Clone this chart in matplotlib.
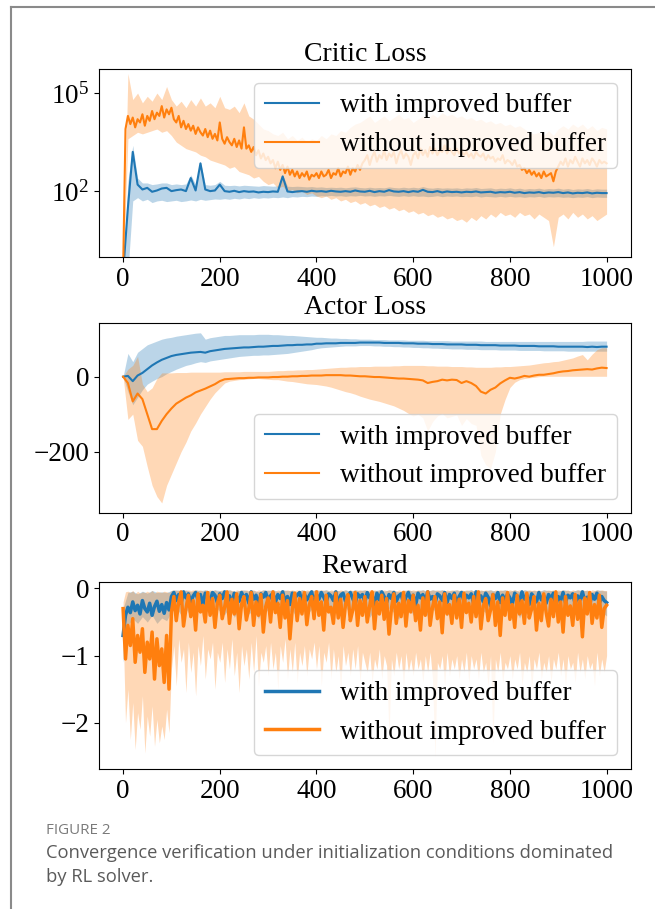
import numpy as np
import matplotlib.pyplot as plt
from matplotlib.lines import Line2D
from matplotlib.ticker import NullLocator

plt.rcParams['font.family'] = ['Liberation Serif', 'DejaVu Serif']
plt.rcParams['mathtext.fontset'] = 'stix'

# episodes: bands read every 10 episodes, the noisiest curves every 5
episodes = np.arange(0, 1001, 10)
episodes_fine = np.arange(0, 1001, 5)

labels = ['with improved buffer', 'without improved buffer']

# Critic loss as log10(loss)
critic_with_mean = [
    -0.5, 1.5, 3.2, 2.2, 2.05, 2.1, 1.98, 2.02, 2.08, 2.1,
    2.0, 2.03, 2.05, 2.0, 2.4, 2.02, 2.85, 2.05, 2.0, 2.02,
    2.2, 2.0, 1.98, 2.01, 1.97, 2.0, 1.98, 1.99, 1.96, 1.98,
    1.97, 1.99, 1.98, 2.45, 1.99, 1.97, 1.99, 2.0, 1.98, 2.01,
    1.99, 2.0, 1.98, 2.01, 1.99, 1.98, 2.0, 1.98, 2.02, 1.99,
    1.98, 2.01, 1.97, 2.0, 1.98, 2.03, 1.99, 1.98, 2.0, 1.97,
    2.0, 1.98, 2.04, 1.98, 1.97, 2.0, 1.96, 1.99, 1.97, 1.98,
    1.96, 1.98, 1.97, 1.99, 1.96, 1.97, 1.98, 1.95, 1.97, 1.96,
    1.98, 1.95, 1.97, 1.94, 1.96, 1.95, 1.97, 1.94, 1.96, 1.95,
    1.97, 1.94, 1.96, 1.93, 1.95, 1.94, 1.96, 1.93, 1.95, 1.94,
    1.94]
critic_with_low = [
    -0.5, -0.5, 1.7, 1.8, 1.7, 1.75, 1.65, 1.7, 1.72, 1.68,
    1.7, 1.72, 1.68, 1.7, 1.73, 1.7, 1.75, 1.72, 1.74, 1.76,
    1.75, 1.77, 1.75, 1.78, 1.76, 1.79, 1.77, 1.8, 1.78, 1.8,
    1.79, 1.81, 1.8, 1.82, 1.8, 1.83, 1.82, 1.84, 1.83, 1.85,
    1.84, 1.86, 1.85, 1.87, 1.85, 1.86, 1.84, 1.86, 1.85, 1.87,
    1.85, 1.86, 1.84, 1.86, 1.85, 1.87, 1.85, 1.84, 1.86, 1.84,
    1.86, 1.84, 1.85, 1.83, 1.84, 1.86, 1.83, 1.85, 1.84, 1.85,
    1.83, 1.84, 1.83, 1.85, 1.82, 1.84, 1.83, 1.82, 1.84, 1.82,
    1.84, 1.82, 1.83, 1.81, 1.83, 1.82, 1.84, 1.81, 1.83, 1.82,
    1.83, 1.81, 1.82, 1.8, 1.82, 1.81, 1.83, 1.8, 1.82, 1.81,
    1.81]
critic_with_high = [
    -0.5, 2.3, 3.4, 2.4, 2.25, 2.25, 2.2, 2.22, 2.25, 2.25,
    2.2, 2.22, 2.2, 2.22, 2.5, 2.2, 2.9, 2.2, 2.18, 2.2,
    2.3, 2.18, 2.17, 2.18, 2.16, 2.18, 2.17, 2.16, 2.15, 2.17,
    2.16, 2.15, 2.16, 2.5, 2.15, 2.14, 2.15, 2.14, 2.13, 2.14,
    2.12, 2.13, 2.11, 2.12, 2.11, 2.12, 2.1, 2.12, 2.13, 2.11,
    2.1, 2.12, 2.1, 2.11, 2.1, 2.13, 2.11, 2.1, 2.12, 2.1,
    2.12, 2.1, 2.14, 2.1, 2.09, 2.11, 2.09, 2.1, 2.09, 2.1,
    2.08, 2.1, 2.09, 2.11, 2.08, 2.09, 2.1, 2.07, 2.09, 2.08,
    2.1, 2.07, 2.09, 2.06, 2.08, 2.07, 2.09, 2.06, 2.08, 2.07,
    2.09, 2.06, 2.08, 2.05, 2.07, 2.06, 2.08, 2.05, 2.07, 2.06,
    2.06]
# every 5 episodes
critic_without_mean = [
    -0.5, 3.9, 4.3, 4.05, 4.25, 3.95, 4.2, 4.1, 4.35, 4.0,
    4.3, 4.15, 4.45, 4.2, 4.4, 4.3, 4.6, 4.25, 4.5, 4.35,
    4.55, 4.2, 4.1, 4.3, 3.95, 4.15, 3.9, 4.05, 3.85, 4.0,
    3.75, 3.95, 3.8, 3.7, 3.9, 3.65, 3.85, 3.6, 3.75, 3.55,
    4.1, 3.6, 3.45, 3.65, 3.5, 3.4, 3.6, 3.35, 3.55, 3.3,
    3.95, 3.3, 3.4, 3.2, 3.35, 3.1, 3.25, 3.0, 3.15, 2.95,
    3.05, 2.85, 2.95, 2.7, 2.9, 2.65, 2.8, 2.55, 2.75, 2.5,
    2.65, 2.45, 2.6, 2.4, 2.55, 2.45, 2.6, 2.35, 2.5, 2.45,
    2.55, 2.4, 2.6, 2.45, 2.5, 2.65, 2.4, 2.55, 2.5, 2.7,
    2.45, 2.6, 2.55, 2.75, 2.5, 2.7, 2.6, 2.8, 2.65, 2.85,
    2.95, 3.1, 2.8, 3.05, 3.2, 2.9, 3.1, 3.0, 3.25, 2.95,
    3.15, 3.05, 3.2, 2.85, 3.1, 3.25, 3.0, 3.15, 3.05, 2.8,
    3.1, 3.2, 3.0, 3.3, 3.1, 3.25, 3.05, 3.35, 3.15, 3.3,
    3.1, 3.25, 3.2, 3.4, 3.15, 3.3, 3.2, 3.1, 3.3, 3.15,
    3.25, 3.1, 3.2, 3.05, 3.15, 3.0, 3.2, 3.1, 3.05, 3.15,
    2.95, 3.1, 3.0, 3.05, 2.9, 3.0, 2.95, 3.1, 2.85, 2.95,
    2.9, 2.8, 2.95, 2.75, 2.8, 2.65, 2.7, 2.55, 2.65, 2.5,
    2.6, 2.45, 2.55, 2.4, 2.6, 2.45, 2.5, 2.55, 2.3, 2.6,
    2.75, 2.9, 2.8, 3.0, 2.75, 2.95, 2.85, 3.05, 2.9, 2.75,
    3.0, 2.85, 2.95, 2.8, 3.0, 2.9, 2.75, 2.95, 2.85, 2.9,
    2.85]
critic_without_low = [
    -0.5, 3.6, 3.7, 3.8, 3.75, 3.8, 3.85, 3.9, 3.8, 3.85,
    3.7, 3.5, 3.4, 3.3, 3.25, 3.2, 3.1, 3.05, 2.95, 2.9,
    2.85, 2.8, 2.7, 2.75, 2.6, 2.55, 2.5, 2.4, 2.45, 2.3,
    2.2, 2.25, 2.1, 2.15, 2.0, 2.05, 1.95, 2.0, 1.9, 1.95,
    1.85, 1.8, 1.85, 1.75, 1.8, 1.7, 1.75, 1.65, 1.7, 1.6,
    1.65, 1.55, 1.6, 1.5, 1.55, 1.45, 1.5, 1.4, 1.45, 1.35,
    1.4, 1.3, 1.35, 1.25, 1.3, 1.2, 1.25, 1.15, 1.2, 1.1,
    1.15, 1.05, 1.2, 1.1, 1.25, 1.15, 1.3, 1.2, 1.35, 1.25,
    1.3, 1.2, 1.35, 1.25, 1.3, 1.15, 1.3, 1.2, 1.1, 0.3,
    1.2, 1.3, 1.15, 1.35, 1.2, 1.3, 1.15, 1.25, 1.1, 1.2,
    1.3]
critic_without_high = [
    -0.5, 5.6, 4.8, 5.0, 4.7, 4.9, 4.75, 5.0, 4.8, 5.2,
    4.8, 4.6, 4.75, 4.55, 4.8, 4.6, 4.85, 4.6, 4.7, 4.55,
    4.9, 4.55, 4.5, 4.6, 4.4, 4.7, 4.3, 4.2, 4.05, 3.9,
    3.85, 3.75, 3.7, 3.8, 3.6, 3.7, 3.55, 3.65, 3.5, 3.6,
    3.55, 3.7, 3.6, 3.75, 3.7, 3.85, 3.8, 3.95, 4.05, 4.1,
    4.2, 4.3, 4.1, 4.2, 4.3, 4.15, 4.25, 4.35, 4.2, 4.25,
    4.1, 4.2, 4.3, 4.2, 4.35, 4.25, 4.4, 4.3, 4.35, 4.25,
    4.3, 4.2, 4.25, 4.15, 4.2, 4.1, 4.15, 4.05, 4.1, 4.0,
    4.05, 3.95, 4.0, 3.9, 3.8, 3.75, 3.8, 3.7, 3.85, 3.7,
    3.9, 4.0, 3.9, 4.05, 3.95, 4.05, 3.9, 4.0, 3.85, 3.95,
    3.9]

# Actor loss
actor_with_mean = [
    0, 2, -12, 3, 10, 20, 30, 38, 45, 50,
    55, 58, 60, 62, 64, 65, 66, 64, 68, 70,
    72, 74, 75, 76, 77, 78, 78, 79, 80, 80,
    81, 82, 82, 83, 84, 84, 85, 85, 86, 86,
    88, 88, 89, 89, 89, 90, 90, 90, 90, 91,
    91, 91, 91, 91, 90, 90, 90, 90, 89, 89,
    89, 88, 88, 88, 87, 87, 87, 86, 86, 86,
    86, 85, 85, 85, 84, 84, 84, 84, 83, 83,
    83, 83, 82, 82, 82, 82, 81, 81, 81, 81,
    80, 80, 80, 80, 80, 80, 79, 80, 79, 80,
    80]
actor_with_low = [
    0, -40, -75, -55, -35, -20, -12, -5, 0, 8,
    14, 20, 25, 30, 33, 37, 40, 38, 42, 44,
    46, 48, 50, 52, 54, 55, 56, 57, 57, 58,
    58, 59, 60, 61, 62, 64, 66, 68, 70, 72,
    75, 77, 78, 79, 80, 81, 82, 82, 82, 83,
    83, 83, 82, 82, 81, 81, 80, 80, 79, 79,
    78, 78, 77, 77, 76, 76, 75, 75, 74, 74,
    74, 73, 73, 73, 72, 72, 72, 72, 71, 71,
    71, 71, 70, 70, 70, 70, 70, 69, 69, 69,
    69, 69, 68, 68, 68, 68, 68, 68, 68, 68,
    68]
actor_with_high = [
    0, 62, 40, 65, 75, 85, 90, 95, 100, 103,
    105, 108, 110, 112, 114, 116, 117, 100, 104, 106,
    108, 110, 110, 111, 112, 112, 112, 112, 113, 113,
    113, 112, 112, 111, 110, 110, 109, 108, 107, 106,
    105, 105, 104, 103, 103, 102, 102, 101, 101, 100,
    100, 100, 99, 99, 99, 98, 98, 98, 98, 97,
    97, 97, 97, 96, 96, 96, 96, 96, 95, 95,
    95, 95, 95, 95, 95, 94, 94, 94, 94, 94,
    94, 94, 94, 94, 94, 94, 94, 94, 94, 94,
    94, 94, 94, 94, 94, 94, 95, 95, 95, 95,
    95]
actor_without_mean = [
    0, -17, -66, -45, -60, -100, -140, -140, -118, -100,
    -85, -72, -64, -56, -50, -42, -37, -32, -26, -20,
    -12, -7, -6, -5, -4, -4, -3, -3, -2, -2,
    -2, -1, -1, 0, 0, 1, 1, 2, 2, 3,
    3, 3, 4, 4, 4, 4, 3, 3, 2, 1,
    1, 0, -1, -1, -2, -3, -4, -5, -5, -6,
    -7, -8, -10, -17, -14, -12, -8, -10, -8, -9,
    -17, -12, -17, -25, -40, -45, -35, -29, -18, -10,
    -3, -5, -2, 2, 0, 3, 5, 5, 7, 9,
    12, 14, 15, 17, 18, 19, 20, 19, 22, 24,
    23]
actor_without_low = [
    0, -114, -100, -170, -186, -240, -290, -320, -337, -290,
    -260, -230, -200, -175, -145, -124, -100, -80, -60, -43,
    -30, -17, -12, -10, -8, -7, -6, -5, -5, -6,
    -7, -8, -8, -10, -12, -13, -15, -17, -19, -20,
    -21, -23, -25, -28, -32, -36, -40, -43, -47, -52,
    -56, -60, -63, -66, -70, -74, -78, -84, -90, -98,
    -105, -100, -110, -145, -120, -105, -98, -110, -106, -102,
    -130, -112, -125, -130, -210, -235, -245, -200, -100, -61,
    -29, -15, -8, -5, -3, -2, 0, 1, 1, 1,
    1, 1, 1, 1, 1, 1, 1, 1, 1, 1,
    1]
actor_without_high = [
    0, 20, 30, 54, -20, -40, -30, -5, 10, 10,
    10, 11, 11, 11, 12, 12, 12, 12, 12, 12,
    12, 13, 13, 13, 13, 14, 14, 14, 14, 14,
    14, 15, 16, 16, 17, 17, 18, 18, 19, 19,
    20, 21, 22, 23, 24, 25, 25, 26, 26, 27,
    27, 27, 28, 28, 28, 28, 29, 29, 30, 30,
    30, 30, 30, 29, 29, 28, 28, 28, 27, 27,
    27, 26, 26, 25, 25, 25, 25, 26, 26, 27,
    27, 28, 29, 30, 31, 33, 35, 37, 38, 40,
    41, 44, 47, 50, 55, 59, 45, 60, 72, 77,
    77]

# Reward: means and the orange band every 5 episodes, blue band every 10
reward_with_mean = [
    -0.70, -0.40, -0.28, -0.36, -0.20, -0.33, -0.25, -0.38, -0.18, -0.30,
    -0.35, -0.22, -0.40, -0.27, -0.19, -0.34, -0.24, -0.37, -0.21, -0.32,
    -0.12, -0.06, -0.18, -0.09, -0.22, -0.05, -0.14, -0.08, -0.20, -0.11,
    -0.06, -0.17, -0.09, -0.24, -0.07, -0.13, -0.19, -0.06, -0.10, -0.21,
    -0.08, -0.15, -0.05, -0.18, -0.11, -0.23, -0.07, -0.12, -0.19, -0.06,
    -0.14, -0.09, -0.22, -0.05, -0.16, -0.10, -0.26, -0.08, -0.13, -0.06,
    -0.18, -0.11, -0.07, -0.21, -0.09, -0.15, -0.05, -0.19, -0.12, -0.24,
    -0.07, -0.14, -0.10, -0.06, -0.20, -0.08, -0.17, -0.11, -0.05, -0.22,
    -0.09, -0.16, -0.06, -0.13, -0.21, -0.08, -0.11, -0.18, -0.05, -0.25,
    -0.10, -0.07, -0.19, -0.12, -0.06, -0.15, -0.23, -0.08, -0.13, -0.09,
    -0.20, -0.06, -0.14, -0.10, -0.24, -0.07, -0.17, -0.05, -0.12, -0.21,
    -0.09, -0.15, -0.06, -0.19, -0.11, -0.08, -0.22, -0.13, -0.06, -0.17,
    -0.10, -0.25, -0.07, -0.14, -0.09, -0.20, -0.05, -0.16, -0.12, -0.23,
    -0.08, -0.11, -0.18, -0.06, -0.21, -0.09, -0.15, -0.07, -0.24, -0.12,
    -0.06, -0.19, -0.10, -0.14, -0.08, -0.22, -0.05, -0.17, -0.11, -0.20,
    -0.07, -0.13, -0.26, -0.09, -0.15, -0.06, -0.21, -0.10, -0.18, -0.08,
    -0.14, -0.23, -0.07, -0.12, -0.19, -0.05, -0.16, -0.10, -0.24, -0.08,
    -0.13, -0.20, -0.06, -0.17, -0.11, -0.22, -0.09, -0.15, -0.07, -0.25,
    -0.12, -0.18, -0.06, -0.21, -0.10, -0.14, -0.08, -0.23, -0.11, -0.17,
    -0.05, -0.19, -0.13, -0.24, -0.09, -0.16, -0.07, -0.22, -0.12, -0.18,
    -0.21]
reward_with_low = [
    -1.10, -0.55, -0.45, -0.52, -0.42, -0.50, -0.40, -0.52, -0.44, -0.48,
    -0.35, -0.28, -0.40, -0.30, -0.42, -0.26, -0.36, -0.29, -0.41, -0.27,
    -0.34, -0.39, -0.28, -0.43, -0.31, -0.26, -0.38, -0.32, -0.45, -0.27,
    -0.35, -0.30, -0.41, -0.26, -0.37, -0.33, -0.44, -0.28, -0.39, -0.31,
    -0.25, -0.36, -0.29, -0.42, -0.32, -0.38, -0.27, -0.40, -0.30, -0.35,
    -0.28, -0.43, -0.32, -0.26, -0.39, -0.29, -0.36, -0.46, -0.31, -0.27,
    -0.40, -0.33, -0.28, -0.42, -0.30, -0.37, -0.26, -0.41, -0.32, -0.29,
    -0.38, -0.34, -0.27, -0.43, -0.31, -0.36, -0.28, -0.40, -0.33, -0.26,
    -0.39, -0.30, -0.44, -0.28, -0.35, -0.32, -0.41, -0.27, -0.37, -0.31,
    -0.42, -0.29, -0.34, -0.39, -0.26, -0.36, -0.32, -0.43, -0.28, -0.35,
    -0.41]
reward_with_high = [
    -0.30, -0.06, -0.04, -0.08, -0.04, -0.07, -0.03, -0.06, -0.05, -0.06,
    -0.03, -0.02, -0.04, -0.02, -0.05, -0.02, -0.03, -0.02, -0.04, -0.02,
    -0.03, -0.04, -0.02, -0.05, -0.03, -0.02, -0.04, -0.03, -0.05, -0.02,
    -0.03, -0.02, -0.04, -0.02, -0.03, -0.03, -0.05, -0.02, -0.04, -0.03,
    -0.02, -0.03, -0.02, -0.04, -0.03, -0.04, -0.02, -0.04, -0.02, -0.03,
    -0.02, -0.05, -0.03, -0.02, -0.04, -0.02, -0.03, -0.05, -0.03, -0.02,
    -0.04, -0.03, -0.02, -0.04, -0.02, -0.03, -0.02, -0.04, -0.03, -0.02,
    -0.04, -0.03, -0.02, -0.05, -0.03, -0.03, -0.02, -0.04, -0.03, -0.02,
    -0.04, -0.02, -0.05, -0.02, -0.03, -0.03, -0.04, -0.02, -0.03, -0.03,
    -0.04, -0.02, -0.03, -0.04, -0.02, -0.03, -0.03, -0.05, -0.02, -0.03,
    -0.04]
reward_without_mean = [
    -0.30, -1.05, -0.55, -0.85, -0.45, -1.10, -0.70, -0.95, -0.60, -1.25,
    -0.80, -1.05, -0.65, -1.35, -0.75, -1.15, -0.90, -1.40, -0.70, -1.50,
    -0.35, -0.12, -0.48, -0.20, -0.05, -0.56, -0.30, -0.10, -0.42, -0.18,
    -0.62, -0.08, -0.35, -0.25, -0.50, -0.06, -0.40, -0.15, -0.58, -0.22,
    -0.10, -0.45, -0.28, -0.05, -0.52, -0.16, -0.38, -0.08, -0.60, -0.24,
    -0.12, -0.47, -0.30, -0.06, -0.55, -0.20, -0.40, -0.09, -0.65, -0.27,
    -0.14, -0.50, -0.05, -0.36, -0.22, -0.58, -0.10, -0.44, -0.18, -0.75,
    -0.30, -0.07, -0.48, -0.15, -0.38, -0.06, -0.54, -0.25, -0.12, -0.45,
    -0.05, -0.40, -0.20, -0.62, -0.10, -0.35, -0.28, -0.52, -0.07, -0.44,
    -0.16, -0.58, -0.24, -0.09, -0.48, -0.32, -0.06, -0.55, -0.18, -0.40,
    -0.12, -0.50, -0.26, -0.05, -0.60, -0.20, -0.38, -0.10, -0.46, -0.15,
    -0.68, -0.30, -0.08, -0.52, -0.22, -0.42, -0.06, -0.56, -0.18, -0.35,
    -0.10, -0.48, -0.25, -0.62, -0.14, -0.40, -0.05, -0.55, -0.28, -0.12,
    -0.45, -0.20, -0.66, -0.08, -0.38, -0.24, -0.52, -0.10, -0.44, -0.16,
    -0.58, -0.07, -0.36, -0.22, -0.50, -0.12, -0.42, -0.05, -0.60, -0.26,
    -0.15, -0.48, -0.32, -0.09, -0.55, -0.20, -0.70, -0.14, -0.40, -0.06,
    -0.46, -0.24, -0.58, -0.10, -0.38, -0.18, -0.52, -0.07, -0.44, -0.30,
    -0.12, -0.62, -0.22, -0.48, -0.08, -0.36, -0.56, -0.16, -0.42, -0.05,
    -0.50, -0.20, -0.65, -0.12, -0.40, -0.26, -0.55, -0.09, -0.46, -0.18,
    -0.72, -0.14, -0.38, -0.06, -0.52, -0.24, -0.44, -0.10, -0.58, -0.30,
    -0.25]
reward_without_low = [
    -0.60, -2.00, -1.50, -2.25, -1.70, -2.40, -1.85, -2.10, -1.60, -2.45,
    -1.90, -2.20, -1.75, -2.35, -1.95, -2.30, -2.05, -2.25, -1.80, -2.15,
    -1.20, -0.85, -1.45, -0.75, -1.10, -0.90, -1.55, -0.80, -1.25, -0.95,
    -1.60, -0.85, -1.15, -0.70, -1.35, -0.90, -1.05, -0.80, -1.50, -0.95,
    -1.10, -0.80, -1.40, -0.90, -1.20, -0.75, -1.30, -0.95, -1.55, -0.85,
    -1.15, -0.90, -1.35, -0.80, -1.25, -0.70, -1.45, -0.95, -1.10, -0.85,
    -1.30, -0.80, -1.20, -0.95, -1.50, -0.85, -1.10, -0.75, -1.35, -0.90,
    -1.25, -0.80, -1.40, -0.95, -1.15, -0.85, -1.30, -0.90, -1.05, -0.80,
    -1.20, -0.85, -1.45, -0.95, -1.10, -0.80, -1.35, -0.90, -1.25, -1.00,
    -1.50, -0.85, -1.15, -0.95, -1.30, -0.90, -1.20, -0.85, -1.40, -0.95,
    -1.10, -1.25, -0.95, -1.40, -1.05, -1.20, -0.90, -1.35, -1.00, -1.15,
    -2.20, -1.05, -1.30, -0.95, -1.20, -1.00, -1.45, -0.95, -1.25, -1.05,
    -1.30, -0.95, -1.20, -1.05, -1.40, -1.00, -1.25, -0.95, -1.35, -2.50,
    -1.10, -1.20, -1.00, -1.45, -0.95, -1.30, -1.05, -1.20, -1.00, -1.35,
    -1.05, -1.25, -0.95, -1.40, -1.00, -1.20, -1.05, -1.35, -0.95, -1.25,
    -1.10, -1.45, -1.00, -2.30, -1.05, -1.25, -0.95, -1.40, -1.10, -1.20,
    -1.00, -1.35, -1.05, -1.20, -0.95, -1.45, -1.10, -1.25, -1.00, -1.50,
    -1.05, -1.20, -0.95, -1.35, -1.10, -1.25, -1.00, -1.40, -1.05, -1.20,
    -0.95, -1.30, -1.05, -1.45, -1.00, -1.20, -1.10, -1.40, -0.95, -1.25,
    -1.05, -1.35, -1.00, -1.20, -1.10, -1.45, -0.95, -1.30, -1.05, -1.25,
    -1.00]
reward_without_high = [
    -0.20, -0.05, -0.04, -0.06, -0.03, -0.08, -0.04, -0.07, -0.05, -0.06,
    -0.04, -0.06, -0.03, -0.07, -0.04, -0.05, -0.06, -0.04, -0.05, -0.06,
    -0.03, -0.02, -0.03, -0.02, -0.04, -0.02, -0.03, -0.02, -0.03, -0.02,
    -0.02, -0.03, -0.02, -0.04, -0.02, -0.03, -0.02, -0.03, -0.02, -0.04,
    -0.03, -0.02, -0.03, -0.02, -0.02, -0.03, -0.04, -0.02, -0.03, -0.02,
    -0.03, -0.02, -0.03, -0.02, -0.02, -0.04, -0.02, -0.03, -0.02, -0.03,
    -0.02, -0.03, -0.02, -0.04, -0.02, -0.03, -0.02, -0.03, -0.02, -0.03,
    -0.02, -0.03, -0.02, -0.03, -0.02, -0.04, -0.02, -0.03, -0.02, -0.03,
    -0.02, -0.03, -0.02, -0.03, -0.02, -0.04, -0.02, -0.03, -0.02, -0.03,
    -0.02, -0.03, -0.02, -0.04, -0.02, -0.03, -0.02, -0.03, -0.02, -0.03,
    -0.02, -0.03, -0.02, -0.03, -0.02, -0.04, -0.02, -0.03, -0.02, -0.03,
    -0.02, -0.03, -0.02, -0.04, -0.02, -0.03, -0.02, -0.03, -0.02, -0.03,
    -0.02, -0.03, -0.02, -0.03, -0.02, -0.04, -0.02, -0.03, -0.02, -0.03,
    -0.02, -0.03, -0.02, -0.04, -0.02, -0.03, -0.02, -0.03, -0.02, -0.03,
    -0.02, -0.03, -0.02, -0.03, -0.02, -0.04, -0.02, -0.03, -0.02, -0.03,
    -0.02, -0.03, -0.02, -0.04, -0.02, -0.03, -0.02, -0.03, -0.02, -0.03,
    -0.02, -0.03, -0.02, -0.03, -0.02, -0.04, -0.02, -0.03, -0.02, -0.03,
    -0.02, -0.03, -0.02, -0.04, -0.02, -0.03, -0.02, -0.03, -0.02, -0.03,
    -0.02, -0.03, -0.02, -0.03, -0.02, -0.04, -0.02, -0.03, -0.02, -0.03,
    -0.02, -0.03, -0.02, -0.04, -0.02, -0.03, -0.02, -0.03, -0.02, -0.03,
    -0.03]

colors = ['#1f77b4', '#ff7f0e']
FS = 19.5

fig = plt.figure(figsize=(6.55, 9.09), dpi=100)

ax1 = fig.add_axes([0.151, 0.717, 0.812, 0.207])
ax2 = fig.add_axes([0.151, 0.436, 0.812, 0.209])
ax3 = fig.add_axes([0.151, 0.154, 0.812, 0.206])


def draw(ax, series, log=False, lw=1.5):
    # series: (x_line, mean, x_band, low, high) per run
    for (xl, mean, xb, low, high), c, lab in zip(series, colors, labels):
        mean, low, high = np.array(mean), np.array(low), np.array(high)
        if log:
            mean, low, high = 10 ** mean, 10 ** low, 10 ** high
        ax.plot(xl, mean, color=c, lw=lw, label=lab)
        ax.fill_between(xb, low, high, color=c, alpha=0.3, lw=0)


draw(ax1, [(episodes, critic_with_mean, episodes, critic_with_low, critic_with_high),
           (episodes_fine, critic_without_mean, episodes,
            critic_without_low, critic_without_high)], log=True)
ax1.set_yscale('log')
ax1.set_ylim(0.95, 5.4e5)
ax1.set_yticks([1e2, 1e5])
ax1.yaxis.set_minor_locator(NullLocator())
ax1.set_title('Critic Loss', fontsize=FS + 0.5)
ax1.legend(loc='upper right', fontsize=FS)

draw(ax2, [(episodes, actor_with_mean, episodes, actor_with_low, actor_with_high),
           (episodes, actor_without_mean, episodes, actor_without_low, actor_without_high)])
ax2.set_ylim(-363, 144)
ax2.set_yticks([-200, 0])
ax2.set_title('Actor Loss', fontsize=FS + 0.5)
ax2.legend(loc='lower right', fontsize=FS)

# dense noisy curves: a heavier stroke stands in for the many overlapping samples
draw(ax3, [(episodes_fine, reward_with_mean, episodes, reward_with_low, reward_with_high),
           (episodes_fine, reward_without_mean, episodes_fine,
            reward_without_low, reward_without_high)], lw=2.5)
ax3.set_ylim(-2.69, 0.1)
ax3.set_yticks([-2, -1, 0])
ax3.set_title('Reward', fontsize=FS + 0.5)
leg = ax3.legend(loc='lower right', fontsize=FS)
for h in leg.get_lines():
    h.set_linewidth(2.5)

for ax in (ax1, ax2, ax3):
    ax.set_xlim(-50, 1050)
    ax.set_xticks([0, 200, 400, 600, 800, 1000])
    ax.tick_params(labelsize=FS)

# page frame and caption
fig.add_artist(Line2D([0.017, 1.0], [0.9923, 0.9923], color='#8a8a8a', lw=1.5))
fig.add_artist(Line2D([0.017, 0.017], [0.0, 0.9923], color='#8a8a8a', lw=1.5))
fig.text(0.07, 1 - 830 / 909, 'FIGURE 2', family='Open Sans', fontsize=10.9,
         color='#7a7a7a', va='center', ha='left')
fig.text(0.07, 1 - 853 / 909,
         'Convergence verification under initialization conditions dominated',
         family='Open Sans', fontsize=13.2, color='#5a5a5a', va='center', ha='left')
fig.text(0.07, 1 - 877 / 909, 'by RL solver.', family='Open Sans', fontsize=13.2,
         color='#5a5a5a', va='center', ha='left')

fig.savefig('out.png', dpi=100)
